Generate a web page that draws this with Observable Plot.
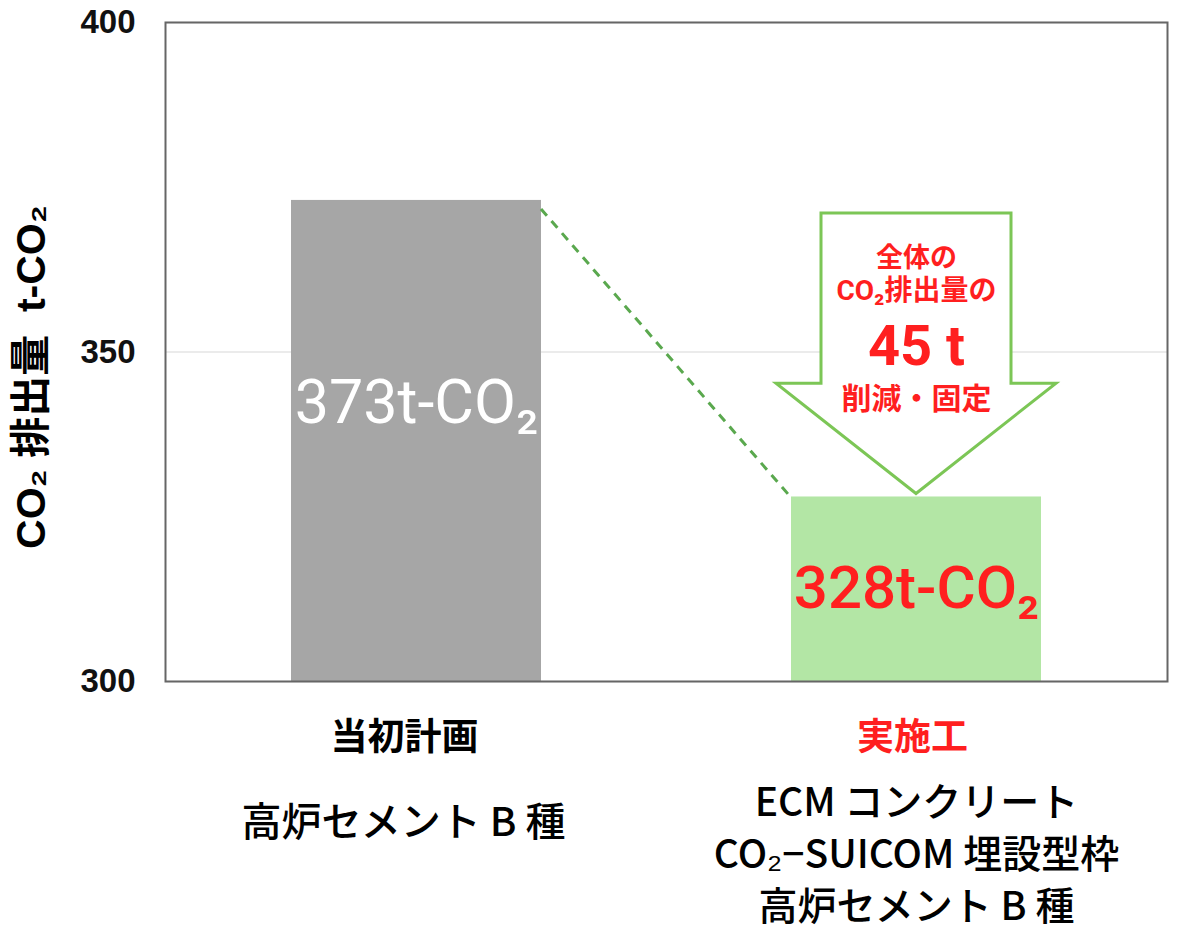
<!DOCTYPE html>
<html>
<head>
<meta charset="utf-8">
<script src="https://cdn.jsdelivr.net/npm/d3@7"></script>
<script src="https://cdn.jsdelivr.net/npm/@observablehq/plot@0.6"></script>
<style>
  html, body { margin: 0; padding: 0; background: #fff; }
  #chart { width: 1200px; height: 936px; }
</style>
</head>
<body>
<div id="chart"></div>
<script>
// ---- data ----
const categories = ["当初計画", "実施工"];
const values = [373, 328];
const barLabels = ["373t-CO₂", "328t-CO₂"];
const headLabels = ["当初計画", "実施工"];
const subLabels = ["高炉セメント B 種", "ECM コンクリート\nCO₂−SUICOM 埋設型枠\n高炉セメント B 種"];
const yDomain = [300, 400];
const yTicks = [300, 350, 400];
const yLabel = "CO₂ 排出量  t-CO₂";
const reduction = values[0] - values[1];
const arrowLines = ["全体の", "CO₂排出量の", `${reduction} t`, "削減・固定"];

const RED = "#ff1f1f";
const GREEN_LINE = "#7cc656";
const JP = "'Liberation Sans', 'Noto Sans CJK JP', sans-serif";
const CJK = "'Noto Sans CJK JP', sans-serif";
const ROBOTO = "Roboto, 'Noto Sans CJK JP', sans-serif";

const bars = categories.map((c, i) => ({cat: c, value: values[i], label: barLabels[i]}));

// custom mark: dashed connector + reduction arrow, drawn through the plot's scales
function annotation(index, scales) {
  const x = scales.x, y = scales.y;
  const bw = x.bandwidth();
  const svgNS = "http://www.w3.org/2000/svg";
  const g = document.createElementNS(svgNS, "g");
  const line = document.createElementNS(svgNS, "line");
  line.setAttribute("x1", x(categories[0]) + bw);
  line.setAttribute("y1", y(values[0]) + 9);
  line.setAttribute("x2", x(categories[1]));
  line.setAttribute("y2", y(values[1]) + 1);
  line.setAttribute("stroke", "#5aa84e");
  line.setAttribute("stroke-width", 3);
  line.setAttribute("stroke-dasharray", "9,7");
  g.appendChild(line);
  const cx = x(categories[1]) + bw / 2;
  const sw = bw * 0.38, hw = bw * 0.56;
  const yTop = y(371), yHead = y(345.2), yTip = y(values[1]) - 3;
  const pts = [
    [cx - sw, yTop], [cx + sw, yTop], [cx + sw, yHead], [cx + hw, yHead],
    [cx, yTip], [cx - hw, yHead], [cx - sw, yHead]
  ];
  const poly = document.createElementNS(svgNS, "polygon");
  poly.setAttribute("points", pts.map(p => p.join(",")).join(" "));
  poly.setAttribute("fill", "white");
  poly.setAttribute("stroke", GREEN_LINE);
  poly.setAttribute("stroke-width", 3);
  g.appendChild(poly);
  return g;
}

const arrowText = (text, dy, fontSize) => Plot.text([text], {
  x: () => categories[1], y: () => values[1], dy, text: d => d,
  fill: RED, fontSize, fontWeight: "bold", fontFamily: ROBOTO
});

const plot = Plot.plot({
  width: 1200,
  height: 936,
  marginLeft: 165,
  marginRight: 33,
  marginTop: 22,
  marginBottom: 255,
  style: {background: "white", fontFamily: JP, overflow: "visible"},
  x: {domain: categories, paddingInner: 0.5, paddingOuter: 0.252, axis: null},
  y: {domain: yDomain, axis: null},
  marks: [
    Plot.ruleY(yTicks, {stroke: "#e4e4e4", strokeWidth: 1.5}),
    Plot.barY(bars, {x: "cat", y1: () => yDomain[0], y2: "value",
      fill: (d, i) => i === 0 ? "#a6a6a6" : "#b3e6a5"}),
    annotation,
    Plot.frame({stroke: "#666", strokeWidth: 2}),
    // y tick labels
    Plot.text(yTicks, {y: d => d, frameAnchor: "left", dx: -30, textAnchor: "end",
      text: d => String(d), fontSize: 33, fontWeight: "bold", fill: "#111",
      fontFamily: "'Liberation Sans', Arial, sans-serif"}),
    // y label
    Plot.text([yLabel], {frameAnchor: "left", dx: -134, dy: 25, rotate: -90, text: d => d,
      textAnchor: "middle", lineAnchor: "middle",
      fontSize: 41, fontWeight: "bold", fill: "#000", fontFamily: JP}),
    // bar value labels
    Plot.text([bars[0]], {x: "cat", y: "value", dy: 203, text: "label", fill: "white",
      fontSize: 61, fontFamily: ROBOTO}),
    Plot.text([bars[1]], {x: "cat", y: "value", dy: 92, text: "label", fill: RED,
      fontSize: 60, fontWeight: 500, fontFamily: ROBOTO}),
    // arrow text
    arrowText(arrowLines[0], -239, 27),
    arrowText(arrowLines[1], -206, 28),
    arrowText(arrowLines[2], -150, 56),
    arrowText(arrowLines[3], -98, 30),
    // category labels below
    Plot.text([categories[0]], {x: d => d, frameAnchor: "bottom", lineAnchor: "middle",
      dx: -12, dy: 57, text: () => headLabels[0],
      fill: "#000", fontSize: 37, fontWeight: "bold", fontFamily: CJK}),
    Plot.text([categories[1]], {x: d => d, frameAnchor: "bottom", lineAnchor: "middle",
      dx: -4, dy: 57, text: () => headLabels[1],
      fill: RED, fontSize: 37, fontWeight: "bold", fontFamily: CJK}),
    Plot.text([categories[0]], {x: d => d, frameAnchor: "bottom", lineAnchor: "middle",
      dx: -13, dy: 142,
      text: () => subLabels[0], fill: "#000", fontSize: 40, fontWeight: 500, fontFamily: CJK}),
    Plot.text([categories[1]], {x: d => d, frameAnchor: "bottom", lineAnchor: "middle", dy: 170,
      text: () => subLabels[1], fill: "#000", fontSize: 39, fontWeight: 500, lineHeight: 1.33,
      fontFamily: CJK})
  ]
});

document.getElementById("chart").appendChild(plot);
</script>
</body>
</html>
